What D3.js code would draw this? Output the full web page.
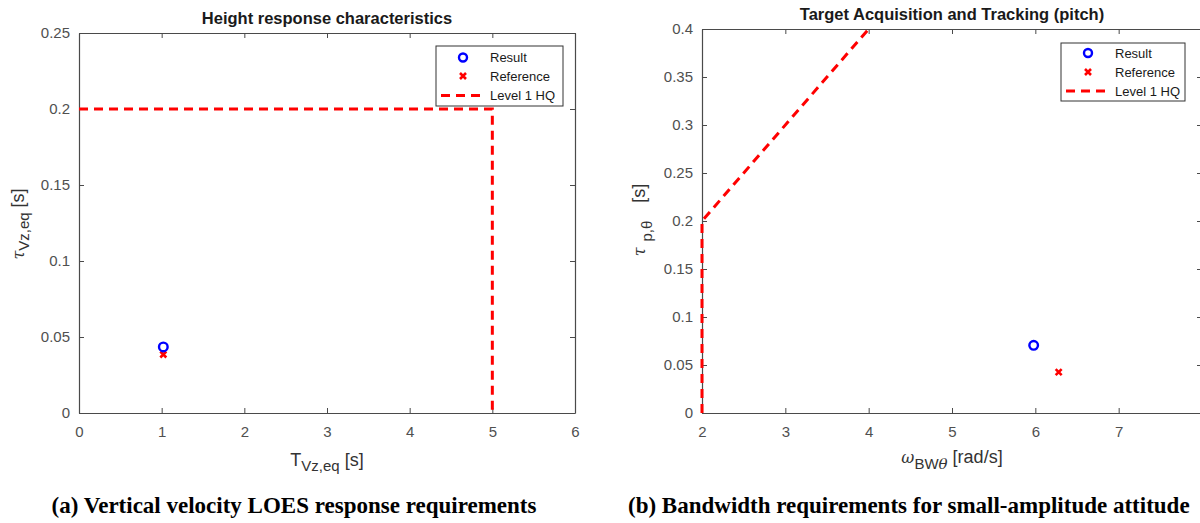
<!DOCTYPE html>
<html>
<head>
<meta charset="utf-8">
<script src="https://cdn.jsdelivr.net/npm/d3@7"></script>
<style>
  html, body { margin: 0; padding: 0; background: #fff; overflow: hidden; }
  svg { display: block; }
  .tick text { font-family: "Liberation Sans", Arial, sans-serif; font-size: 15px; fill: #505050; }
  .tick line { stroke: #4a4a4a; }
  .domain { stroke: #4a4a4a; }
</style>
</head>
<body>
<svg id="chart" width="1200" height="523"></svg>
<script>
// ---- Panel (a): height response ----
const aXTicks = [0, 1, 2, 3, 4, 5, 6];
const aXLabels = [0, 1, 2, 3, 4, 5, 6];
const aYTicks = [0, 0.05, 0.1, 0.15, 0.2, 0.25];
const aResult = [{x: 1.02, y: 0.0435}];
const aReference = [{x: 1.02, y: 0.0385}];
const aLevel1 = [{x: 0, y: 0.2}, {x: 5, y: 0.2}, {x: 5, y: 0}];

// ---- Panel (b): pitch bandwidth ----
const bXTicks = [2, 3, 4, 5, 6, 7, 8];
const bXLabels = [2, 3, 4, 5, 6, 7];
const bYTicks = [0, 0.05, 0.1, 0.15, 0.2, 0.25, 0.3, 0.35, 0.4];
const bResult = [{x: 5.98, y: 0.0705}];
const bReference = [{x: 6.28, y: 0.0425}];
const bLevel1 = [{x: 2, y: 0}, {x: 2, y: 0.2}, {x: 4, y: 0.4}];

const legendLabels = ["Result", "Reference", "Level 1 HQ"];

const svg = d3.select("#chart");
const BLUE = "#0000ff";
const RED = "#ff0000";
const SANS = '"Liberation Sans", Arial, sans-serif';
const SERIF = '"Liberation Serif", "Times New Roman", serif';

function drawPanel(cfg) {
  const g = svg.append("g");
  const x = d3.scaleLinear().domain(cfg.xDomain).range([cfg.left, cfg.right]);
  const y = d3.scaleLinear().domain(cfg.yDomain).range([cfg.bottom, cfg.top]);

  // box axes with inward ticks on all four sides
  g.append("g").attr("transform", `translate(0,${cfg.bottom})`)
    .call(d3.axisBottom(x).tickValues(cfg.xTicks)
      .tickFormat(d => cfg.xLabels.includes(d) ? d3.format("")(d) : "")
      .tickSizeInner(-5).tickSizeOuter(0).tickPadding(13));
  g.append("g").attr("transform", `translate(${cfg.left},0)`)
    .call(d3.axisLeft(y).tickValues(cfg.yTicks).tickFormat(d3.format("")).tickSizeInner(-5).tickSizeOuter(0).tickPadding(9));
  g.append("g").attr("transform", `translate(0,${cfg.top})`)
    .call(d3.axisTop(x).tickValues(cfg.xTicks).tickFormat("").tickSizeInner(-5).tickSizeOuter(0));
  g.append("g").attr("transform", `translate(${cfg.right},0)`)
    .call(d3.axisRight(y).tickValues(cfg.yTicks).tickFormat("").tickSizeInner(-5).tickSizeOuter(0));
  g.selectAll(".domain").attr("stroke-width", 1.2);

  // requirement boundary
  const line = d3.line().x(d => x(d.x)).y(d => y(d.y));
  g.append("path").datum(cfg.level1).attr("d", line)
    .attr("fill", "none").attr("stroke", RED).attr("stroke-width", 3)
    .attr("stroke-dasharray", "9,6");

  // reference points (x markers)
  g.selectAll(".ref").data(cfg.reference).join("path").attr("class", "ref")
    .attr("d", d => { const cx = x(d.x), cy = y(d.y), s = 3; return `M${cx-s},${cy-s}L${cx+s},${cy+s}M${cx-s},${cy+s}L${cx+s},${cy-s}`; })
    .attr("stroke", RED).attr("stroke-width", 2.6).attr("fill", "none");

  // result points (circles)
  g.selectAll(".res").data(cfg.result).join("circle").attr("class", "res")
    .attr("cx", d => x(d.x)).attr("cy", d => y(d.y)).attr("r", 4.3)
    .attr("fill", "none").attr("stroke", BLUE).attr("stroke-width", 2.4);

  // title
  g.append("text").attr("x", (cfg.left + cfg.right) / 2).attr("y", cfg.titleY)
    .attr("text-anchor", "middle").attr("font-family", SANS).attr("font-weight", "bold")
    .attr("font-size", 16.5).attr("fill", "#1a1a1a").text(cfg.title);

  // legend
  const L = cfg.legend;
  g.append("rect").attr("x", L.x0).attr("y", L.y0).attr("width", L.x1 - L.x0).attr("height", L.y1 - L.y0)
    .attr("fill", "#fff").attr("stroke", "#333").attr("stroke-width", 1);
  legendLabels.forEach((lab, i) => {
    const ly = L.rowY[i];
    g.append("text").attr("x", L.textX).attr("y", ly + 4.5).attr("font-family", SANS)
      .attr("font-size", 13).attr("fill", "#1a1a1a").text(lab);
  });
  g.append("circle").attr("cx", L.markX).attr("cy", L.rowY[0]).attr("r", 4)
    .attr("fill", "none").attr("stroke", BLUE).attr("stroke-width", 2.4);
  {
    const cx = L.markX, cy = L.rowY[1], s = 3;
    g.append("path").attr("d", `M${cx-s},${cy-s}L${cx+s},${cy+s}M${cx-s},${cy+s}L${cx+s},${cy-s}`)
      .attr("stroke", RED).attr("stroke-width", 2.6);
  }
  g.append("line").attr("x1", L.dashX0).attr("x2", L.dashX1).attr("y1", L.rowY[2]).attr("y2", L.rowY[2])
    .attr("stroke", RED).attr("stroke-width", 3).attr("stroke-dasharray", "9,6");

  // axis labels
  cfg.xLabel(g.append("text").attr("x", (cfg.left + cfg.right) / 2).attr("y", cfg.xLabelY)
    .attr("text-anchor", "middle").attr("font-family", SANS).attr("font-size", 18).attr("fill", "#333"));
  cfg.yLabel(g.append("text").attr("transform", `translate(${cfg.yLabelX},${cfg.yLabelY}) rotate(-90)`)
    .attr("text-anchor", "middle").attr("font-family", SANS).attr("font-size", 18).attr("fill", "#333"));

  // caption
  g.append("text").attr("x", cfg.captionX).attr("y", 513).attr("text-anchor", cfg.captionAnchor)
    .attr("font-family", SERIF).attr("font-weight", "bold").attr("font-size", 23).attr("fill", "#000")
    .text(cfg.caption);
}

drawPanel({
  left: 79, right: 575, top: 33, bottom: 413,
  xDomain: [0, 6], yDomain: [0, 0.25], xTicks: aXTicks, xLabels: aXLabels, yTicks: aYTicks,
  result: aResult, reference: aReference, level1: aLevel1,
  title: "Height response characteristics", titleY: 24,
  legend: {x0: 436, x1: 563, y0: 46, y1: 106, rowY: [57.5, 76, 95.5], markX: 463, textX: 490, dashX0: 441, dashX1: 485},
  xLabelY: 466,
  xLabel: t => { t.append("tspan").text("T"); t.append("tspan").attr("font-size", 15).attr("dy", 5).text("Vz,eq");
                 t.append("tspan").attr("dy", -5).text(" [s]"); },
  yLabelX: 24, yLabelY: 224,
  yLabel: t => { t.append("tspan").attr("font-family", "DejaVu Serif").attr("font-style", "italic").attr("font-size", 16).text("τ");
                 t.append("tspan").attr("font-size", 15).attr("dy", 5).text("Vz,eq");
                 t.append("tspan").attr("dy", -5).text(" [s]"); },
  caption: "(a) Vertical velocity LOES response requirements", captionX: 294, captionAnchor: "middle"
});

drawPanel({
  left: 702, right: 1202, top: 29, bottom: 413,
  xDomain: [2, 8], yDomain: [0, 0.4], xTicks: bXTicks, xLabels: bXLabels, yTicks: bYTicks,
  result: bResult, reference: bReference, level1: bLevel1,
  title: "Target Acquisition and Tracking (pitch)", titleY: 20,
  legend: {x0: 1061, x1: 1185, y0: 43, y1: 101, rowY: [53, 72, 91], markX: 1088, textX: 1115, dashX0: 1066, dashX1: 1110},
  xLabelY: 463,
  xLabel: t => { t.append("tspan").attr("font-family", "DejaVu Serif").attr("font-style", "italic").attr("font-size", 16).text("ω");
                 t.append("tspan").attr("font-size", 15).attr("dy", 6).text("BW");
                 t.append("tspan").attr("font-size", 15).attr("font-family", "DejaVu Serif").attr("font-style", "italic").text("θ");
                 t.append("tspan").attr("dy", -6).text(" [rad/s]"); },
  yLabelX: 645, yLabelY: 220,
  yLabel: t => { t.append("tspan").attr("font-family", "DejaVu Serif").attr("font-style", "italic").attr("font-size", 16).text("τ");
                 t.append("tspan").attr("font-size", 15).attr("dy", 7).attr("dx", 6).text("p,θ");
                 t.append("tspan").attr("dy", -7).attr("dx", 18).text("[s]"); },
  caption: "(b) Bandwidth requirements for small-amplitude attitude", captionX: 628, captionAnchor: "start"
});
</script>
</body>
</html>
